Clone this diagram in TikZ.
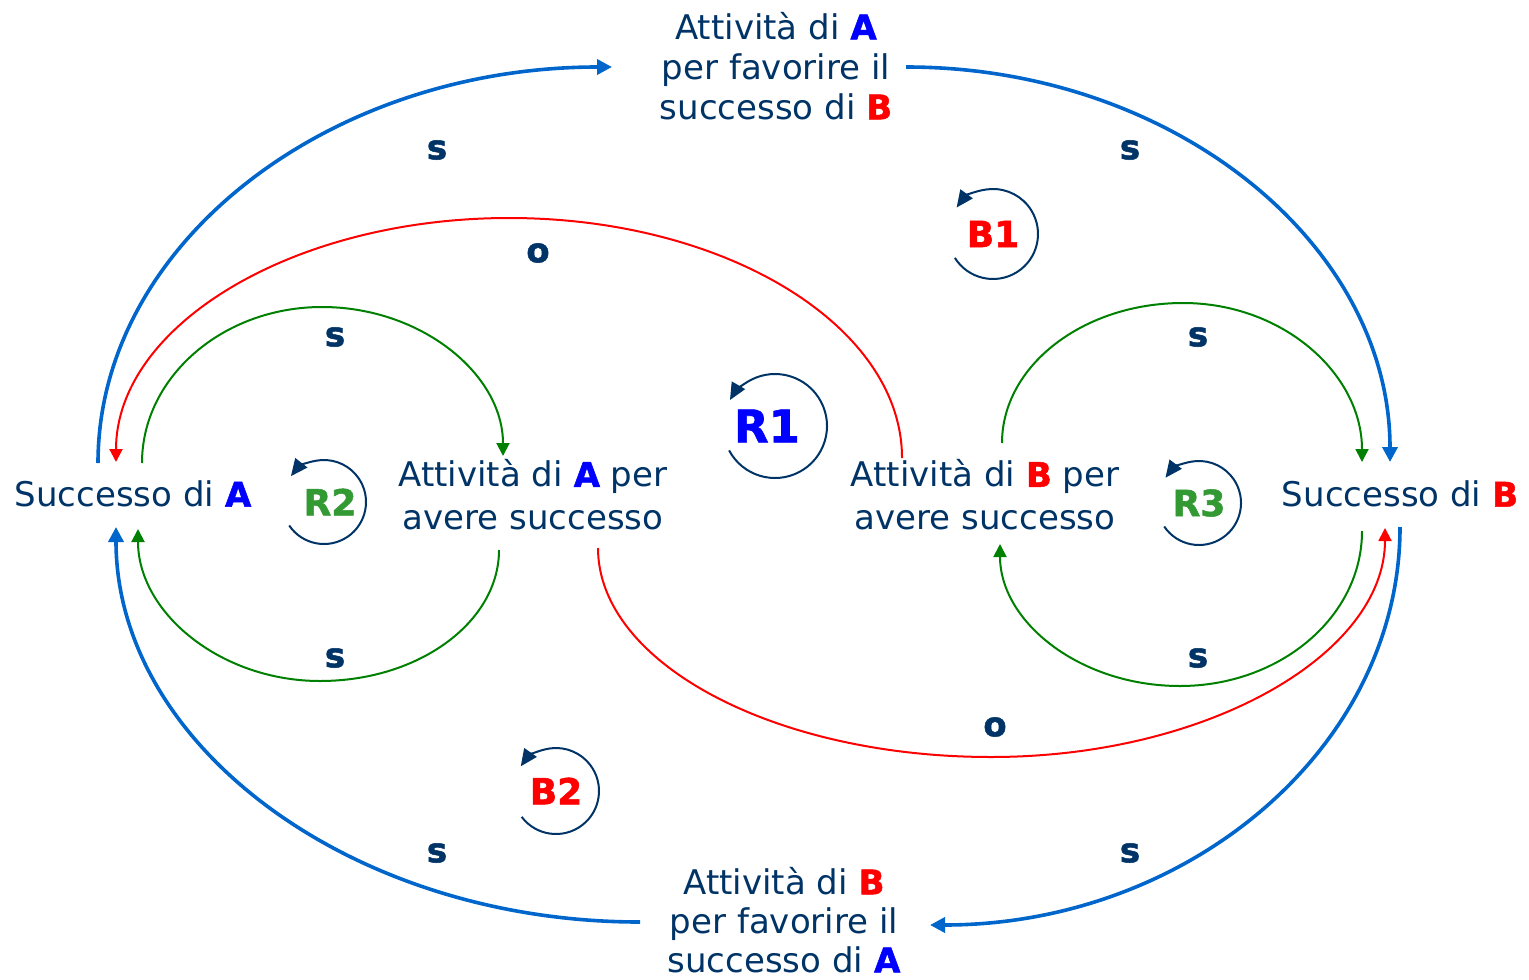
\documentclass[tikz,border=0pt]{standalone}
\usepackage{fontspec}
\setmainfont{DejaVu Sans}
\usetikzlibrary{arrows.meta}
\definecolor{navy}{RGB}{0,51,102}
\definecolor{linkblue}{RGB}{0,102,204}
\definecolor{pureblue}{RGB}{0,0,255}
\definecolor{purered}{RGB}{255,0,0}
\definecolor{linkgreen}{RGB}{0,128,0}
\definecolor{namegreen}{RGB}{51,153,51}
\newcommand{\heavy}{\bfseries\addfontfeature{FakeBold=1.5}}
\newcommand{\pA}{{\heavy\color{pureblue}A}}
\newcommand{\pB}{{\heavy\color{purered}B}}

\begin{document}
\begin{tikzpicture}[x=0.5pt,y=-0.5pt,
	txt/.style={text=navy,align=center,inner sep=0pt,font=\fontsize{17}{#1}\selectfont},
	txt/.default=21,
	sgn/.style={text=navy,inner sep=0pt,font=\fontsize{17}{17}\selectfont\heavy},
	mainarrow/.style={line width=1.8pt,draw=linkblue,-{Triangle[length=7.5pt,width=7.5pt]}},
	link/.style={line width=1pt,-{Triangle[length=6.5pt,width=6.5pt]}},
	cycarrow/.style={line width=1pt,draw=navy,-{Triangle[length=8.5pt,width=7.5pt]}},
	loopname/.style={inner sep=0pt,font=\fontsize{18}{18}\selectfont\heavy}]
	\useasboundingbox (0,0) rectangle (1529,979);

	\node[txt=20] (tA) at (776,66) {Attività di \pA\\per favorire il\\successo di \pB};
	\node[txt=19.5] (bA) at (784,920) {Attività di \pB\\per favorire il\\successo di \pA};
	\node[txt] (sA) at (133,494) {Successo di \pA};
	\node[txt] (sB) at (1400,494) {Successo di \pB};
	\node[txt=21.5] (aA) at (533,495) {Attività di \pA{} per\\avere successo};
	\node[txt=21.5] (aB) at (985,495) {Attività di \pB{} per\\avere successo};

	\draw[mainarrow] ([shift={(-35,-31)}]sA.center) .. controls (98,244) and (328,67) .. ([shift={(-164,1)}]tA.center);
	\draw[mainarrow] ([shift={(130,1)}]tA.center) .. controls (1173,67) and (1390,244) .. ([shift={(-10,-32)}]sB.center);
	\draw[mainarrow] ([shift={(0,33)}]sB.center) .. controls (1400,747) and (1189,925) .. ([shift={(146,5)}]bA.center);
	\draw[mainarrow] ([shift={(-144,2)}]bA.center) .. controls (351,922) and (116,745) .. ([shift={(-17,33)}]sA.center);

	\draw[link,draw=purered] ([shift={(-83,-37)}]aB.center) .. controls (902,326) and (726,218) .. (509,218) .. controls (292,218) and (116,326) .. ([shift={(-17,-32)}]sA.center);
	\draw[link,draw=purered] ([shift={(65,53)}]aA.center) .. controls (598,663) and (774,757) .. (991,757) .. controls (1208,757) and (1385,654) .. ([shift={(-15,34)}]sB.center);

	\draw[link,draw=linkgreen] ([shift={(9,-31)}]sA.center) .. controls (142,377) and (223,307) .. (322,307) .. controls (421,307) and (503,374) .. ([shift={(-30,-39)}]aA.center);
	\draw[link,draw=linkgreen] ([shift={(-34,55)}]aA.center) .. controls (499,622) and (419,681) .. (320,681) .. controls (221,681) and (138,613) .. ([shift={(5,35)}]sA.center);
	\draw[link,draw=linkgreen] ([shift={(17,-52)}]aB.center) .. controls (1002,366) and (1083,303) .. (1183,303) .. controls (1283,303) and (1362,374) .. ([shift={(-38,-32)}]sB.center);
	\draw[link,draw=linkgreen] ([shift={(-38,37)}]sB.center) .. controls (1362,617) and (1280,686) .. (1180,686) .. controls (1080,686) and (1000,622) .. ([shift={(15,49)}]aB.center);

	\node[sgn] (s1) at (437,150) {s};
	\node[sgn] (s2) at (1130,150) {s};
	\node[sgn] (s3) at (335,337) {s};
	\node[sgn] (s4) at (1198,337) {s};
	\node[sgn] (s5) at (335,658) {s};
	\node[sgn] (s6) at (1198,658) {s};
	\node[sgn] (s7) at (437,853) {s};
	\node[sgn] (s8) at (1130,853) {s};
	\node[sgn] (o1) at (538,253) {o};
	\node[sgn] (o2) at (995,727) {o};

	\node[loopname,text=pureblue,font=\fontsize{22.5}{22.5}\selectfont\heavy] (r1) at (767,426) {R1};
	\node[loopname,text=purered] (b1) at (993,234) {B1};
	\node[loopname,text=namegreen] (r2) at (330,502) {R2};
	\node[loopname,text=namegreen] (r3) at (1199,503) {R3};
	\node[loopname,text=purered] (b2) at (556,791) {B2};

	\draw[cycarrow] ([shift={(4pt,0pt)}]r1.center) ++(208:26pt) arc[start angle=208,end angle=510,radius=26pt];
	\draw[cycarrow] (b1.center) ++(212:22.5pt) arc[start angle=212,end angle=504,radius=22.5pt];
	\draw[cycarrow] ([shift={(-3pt,0pt)}]r2.center) ++(214:21pt) arc[start angle=214,end angle=502,radius=21pt];
	\draw[cycarrow] (r3.center) ++(214:21pt) arc[start angle=214,end angle=503,radius=21pt];
	\draw[cycarrow] (b2.center) ++(217:21.5pt) arc[start angle=217,end angle=505,radius=21.5pt];
\end{tikzpicture}
\end{document}
